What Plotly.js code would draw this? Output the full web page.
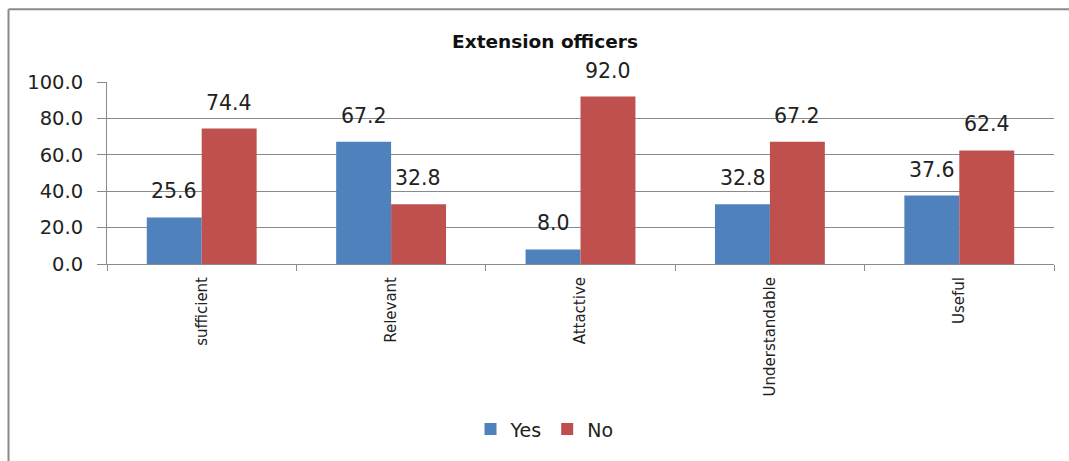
<!DOCTYPE html>
<html>
<head>
<meta charset="utf-8">
<script src="https://cdn.plot.ly/plotly-3.0.1.min.js"></script>
<style>html,body{margin:0;padding:0;background:#fff;}#chart{width:1069px;height:461px;}</style>
</head>
<body>
<div id="chart"></div>
<script>
const categories = ["sufficient", "Relevant", "Attactive", "Understandable", "Useful"];
const yesValues = [25.6, 67.2, 8.0, 32.8, 37.6];
const noValues = [74.4, 32.8, 92.0, 67.2, 62.4];
const seriesNames = ["Yes", "No"];
const yTickVals = [0, 20, 40, 60, 80, 100];

const FONT = "'DejaVu Sans', sans-serif";
const BLUE = "#4F81BD", RED = "#C0504D";

const traces = [
  {type: "bar", name: seriesNames[0], x: categories, y: yesValues, marker: {color: BLUE}, hoverinfo: "none"},
  {type: "bar", name: seriesNames[1], x: categories, y: noValues, marker: {color: RED}, hoverinfo: "none"}
];

const annotations = [];
const off = 0.144;
[yesValues, noValues].forEach((vals, s) => {
  vals.forEach((v, i) => {
    annotations.push({
      xref: "x", yref: "y", x: i + (s === 0 ? -off : off), y: v,
      text: v.toFixed(1), showarrow: false, yanchor: "bottom", yshift: 12,
      font: {family: FONT, size: 20.5, color: "#222"}
    });
  });
});

const layout = {
  width: 1069, height: 461,
  margin: {l: 107, r: 15, t: 82, b: 195},
  paper_bgcolor: "#fff", plot_bgcolor: "#fff",
  title: {text: "<b>Extension officers</b>", x: 545/1069, xref: "container", xanchor: "center", y: 1 - 42/461, yref: "container", yanchor: "middle", font: {family: FONT, size: 18.5, color: "#111"}},
  barmode: "group", bargap: 0.42, bargroupgap: 0,
  xaxis: {
    type: "category", showline: true, linecolor: "#8a8a8a", linewidth: 1,
    ticks: "outside", tickson: "boundaries", ticklen: 6, tickcolor: "#8a8a8a",
    tickangle: -90, tickfont: {family: FONT, size: 15, color: "#222"},
    showgrid: false, zeroline: false, fixedrange: true, ticklabelstandoff: 6
  },
  yaxis: {
    range: [0, 100], tickvals: yTickVals, ticktext: yTickVals.map(v => v.toFixed(1)),
    showline: true, linecolor: "#8a8a8a", linewidth: 1,
    ticks: "outside", ticklen: 9, tickcolor: "#8a8a8a",
    showgrid: true, gridcolor: "#8a8a8a", gridwidth: 1, zeroline: false,
    tickfont: {family: FONT, size: 19.5, color: "#222"}, ticklabelstandoff: 10, fixedrange: true
  },
  showlegend: true,
  legend: {orientation: "h", x: 0.462, xanchor: "center", y: -0.908, yanchor: "middle", yref: "paper",
    font: {family: FONT, size: 19, color: "#222"}, itemwidth: 30, traceorder: "normal"},
  annotations: annotations,
  shapes: [
    {type: "line", xref: "paper", yref: "paper", x0: -0.104, x1: -0.104, y0: 1.4, y1: -1.1, line: {color: "#8a8a8a", width: 2}},
    {type: "line", xref: "paper", yref: "paper", x0: -0.104, x1: 1.02, y0: 1.4, y1: 1.4, line: {color: "#8a8a8a", width: 2}}
  ]
};

Plotly.newPlot("chart", traces, layout, {displayModeBar: false, staticPlot: true});
</script>
</body>
</html>
